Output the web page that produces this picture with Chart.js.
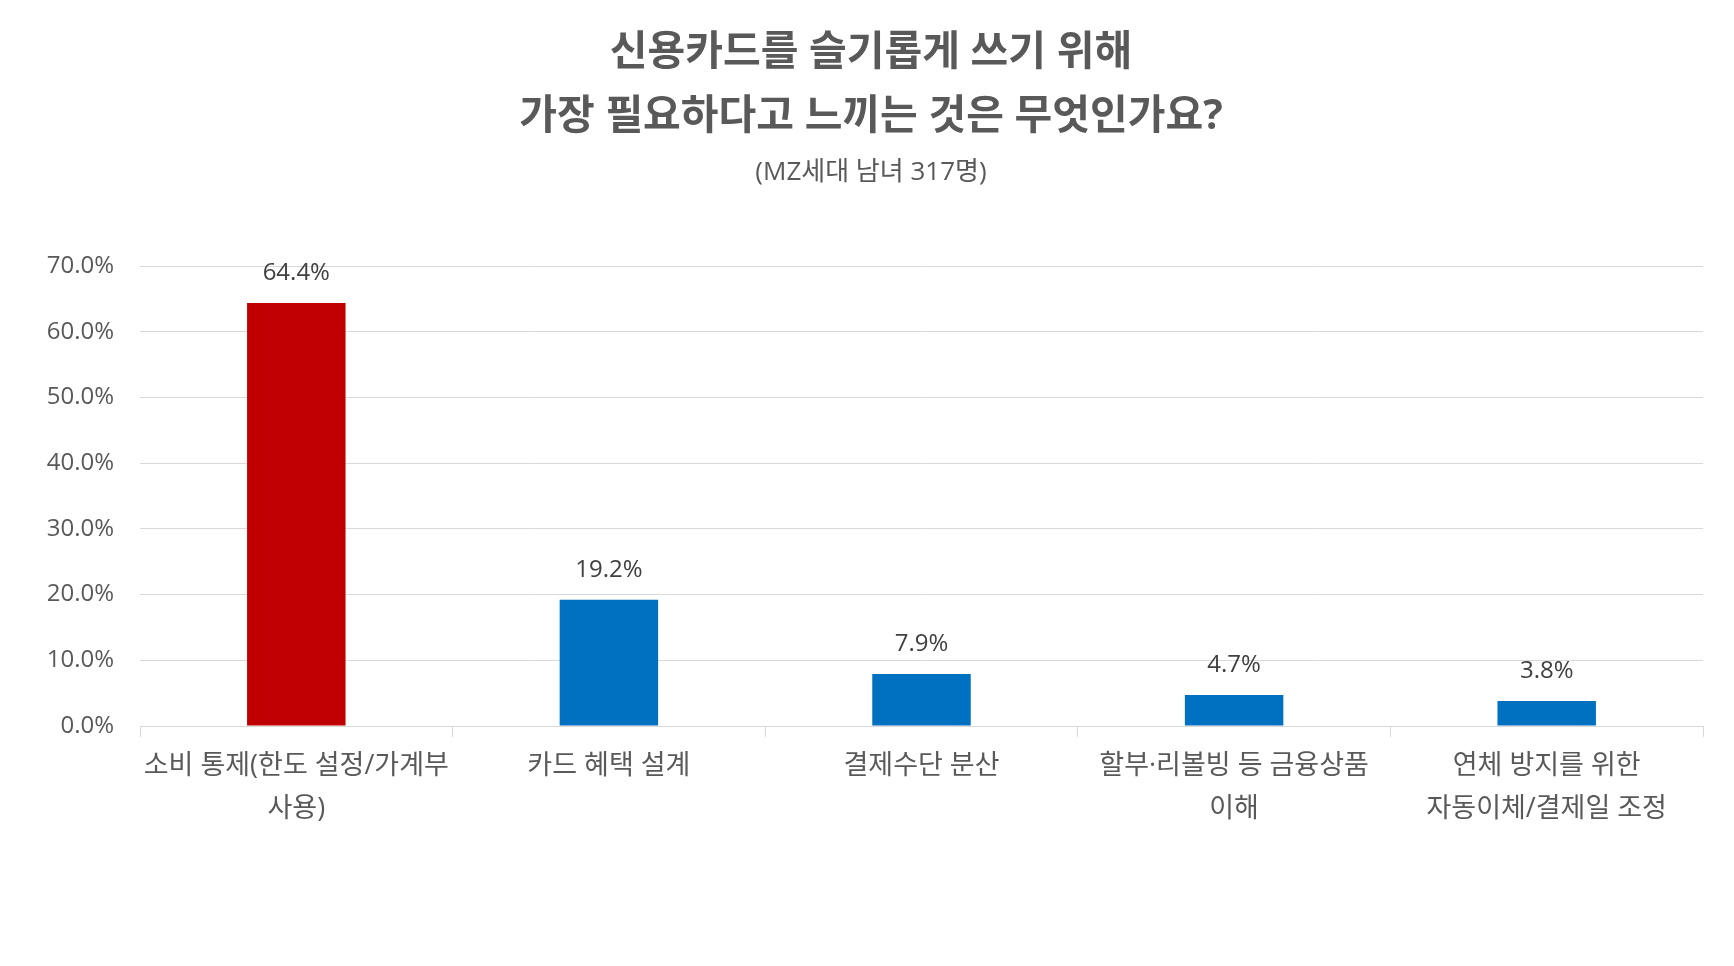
<!DOCTYPE html>
<html lang="ko">
<head>
<meta charset="utf-8">
<title>신용카드를 슬기롭게 쓰기 위해</title>
<script src="https://cdn.jsdelivr.net/npm/chart.js@4"></script>
<style>
  html, body { margin: 0; padding: 0; background: #fff; }
  canvas { display: block; }
</style>
</head>
<body>
<canvas id="chart" width="1734" height="966"></canvas>
<script>
const categorias = [
  ["소비 통제(한도 설정/가계부", "사용)"],
  "카드 혜택 설계",
  "결제수단 분산",
  ["할부·리볼빙 등 금융상품", "이해"],
  ["연체 방지를 위한", "자동이체/결제일 조정"]
];
const porcentajes = [64.4, 19.2, 7.9, 4.7, 3.8];
const ejeY = { min: 0, max: 70, paso: 10 };
const colores = ["#C00000", "#0070C0", "#0070C0", "#0070C0", "#0070C0"];

const fuente = "'Open Sans', 'Noto Sans CJK KR', sans-serif";

// etiquetas encima de cada barra
const etiquetas = {
  id: "etiquetas",
  afterDatasetsDraw(chart) {
    const ctx = chart.ctx;
    const meta = chart.getDatasetMeta(0);
    ctx.save();
    ctx.font = "24px " + fuente;
    ctx.fillStyle = "#404040";
    ctx.textAlign = "center";
    ctx.textBaseline = "middle";
    meta.data.forEach((bar, i) => {
      ctx.fillText(porcentajes[i].toFixed(1) + "%", bar.x, bar.y - 30);
    });
    ctx.restore();
  }
};

new Chart(document.getElementById("chart"), {
  type: "bar",
  data: {
    labels: categorias,
    datasets: [{
      data: porcentajes,
      backgroundColor: colores,
      borderWidth: 0,
      barPercentage: 0.315,
      categoryPercentage: 1
    }]
  },
  options: {
    responsive: false,
    animation: false,
    devicePixelRatio: 1,
    layout: { padding: { top: 21, left: 39, right: 31, bottom: 110 } },
    plugins: {
      legend: { display: false },
      tooltip: { enabled: false },
      title: {
        display: true,
        text: ["신용카드를 슬기롭게 쓰기 위해", "가장 필요하다고 느끼는 것은 무엇인가요?"],
        color: "#595959",
        font: { size: 41, weight: "bold", family: fuente, lineHeight: 1.56 },
        padding: { top: 0, bottom: 8 }
      },
      subtitle: {
        display: true,
        text: "(MZ세대 남녀 317명)",
        color: "#595959",
        font: { size: 26, family: fuente, lineHeight: 1.2 },
        padding: { top: 0, bottom: 78 }
      }
    },
    scales: {
      y: {
        min: ejeY.min,
        max: ejeY.max,
        afterFit: s => { s.width = 101; },
        border: { display: false },
        grid: { color: "#D9D9D9", lineWidth: 1, drawTicks: false },
        ticks: {
          stepSize: ejeY.paso,
          padding: 26,
          color: "#595959",
          font: { size: 24, family: fuente },
          callback: v => v.toFixed(1) + "%"
        }
      },
      x: {
        afterFit: s => { s.height = 130; },
        border: { display: true, color: "#D9D9D9", width: 1 },
        grid: {
          offset: true,
          drawOnChartArea: false,
          drawTicks: true,
          tickLength: 11,
          color: "#D9D9D9"
        },
        ticks: {
          padding: 8,
          autoSkip: false,
          maxRotation: 0,
          minRotation: 0,
          color: "#595959",
          font: { size: 27, family: fuente, lineHeight: 1.59 }
        }
      }
    }
  },
  plugins: [etiquetas]
});
</script>
</body>
</html>
